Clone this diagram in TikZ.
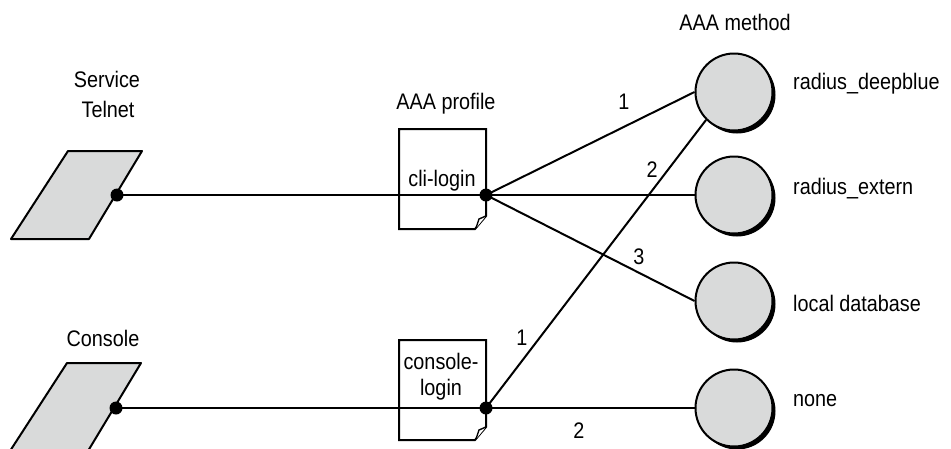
\documentclass[tikz,border=0pt]{standalone}
\usepackage{fontspec}
\setmainfont{Liberation Sans}[FakeStretch=0.88]
\usetikzlibrary{shadows}
\definecolor{fillgray}{HTML}{D9DADA}
\begin{document}
\begin{tikzpicture}[x=1pt,y=-1pt,
  txt/.style={inner sep=0pt, font=\fontsize{22.5}{26}\selectfont},
  wire/.style={line width=2pt},
  dot/.style={circle, fill=black, inner sep=0pt, minimum size=13pt},
  method/.style={circle, draw, line width=2pt, fill=fillgray, minimum size=77pt, inner sep=0pt,
    drop shadow={shadow xshift=3pt, shadow yshift=-3pt, fill=black, opacity=1}},
  svc/.style={draw, line width=2pt, fill=fillgray, line join=round},
  doc/.style={draw, line width=2pt, fill=white},
  ]
\useasboundingbox (0,0) rectangle (951,448);

% services
\draw[svc] (11,239) -- (89,239) -- (142,151) -- (68,151) -- cycle;
\draw[svc] (10,451) -- (88,451) -- (141,363) -- (67,363) -- cycle;
\node[txt] (lservice) at (107,79) {Service};
\node[txt] (ltelnet) at (108,109) {Telnet};
\node[txt] (lconsole) at (103,338) {Console};

% profiles
\draw[doc] (399,129) -- (486,129) -- (486,216) -- (475,229) -- (399,229) -- cycle;
\draw[doc, line width=1.4pt] (486,216) -- (479,219) -- (476,228);
\draw[doc] (399,340) -- (486,340) -- (486,427) -- (475,440) -- (399,440) -- cycle;
\draw[doc, line width=1.4pt] (486,427) -- (479,430) -- (476,439);
\node[txt] (lprofile) at (446,104) {AAA profile};
\node[txt] (lcli) at (442,181) {cli-login};
\node[txt, align=center] (lcons) at (441,377) {console-\\login};

% methods
\node[method] (deep) at (734,92) {};
\node[method] (ext) at (734,195) {};
\node[method] (loc) at (734,301) {};
\node[method] (non) at (734,408) {};
\node[txt] (lmethod) at (735,22) {AAA method};
\node[txt, anchor=west] (ldeep) at (793,84) {radius\_deepblue};
\node[txt, anchor=west] (lext) at (793,189) {radius\_extern};
\node[txt, anchor=west] (lloc) at (793,303) {local database};
\node[txt, anchor=west] (lnon) at (793,401) {none};

% dots
\node[dot] (t) at (117,195) {};
\node[dot] (c) at (116,408) {};
\node[dot] (p1) at (486,195) {};
\node[dot] (p2) at (486,408) {};

% connectors
\draw[wire] (t.center) -- (p1.center);
\draw[wire] (c.center) -- (p2.center);
\draw[wire] (p1.center) -- (deep.west);
\draw[wire] (p1.center) -- (ext.west);
\draw[wire] (p1.center) -- (loc.west);
\draw[wire] (p2.center) -- (deep.south west);
\draw[wire] (p2.center) -- (non.west);

% numbers
\node[txt] (n1) at (624,102) {1};
\node[txt] (n2) at (652,170) {2};
\node[txt] (n3) at (639,257) {3};
\node[txt] (n4) at (522,338) {1};
\node[txt] (n5) at (579,431) {2};
\end{tikzpicture}
\end{document}
